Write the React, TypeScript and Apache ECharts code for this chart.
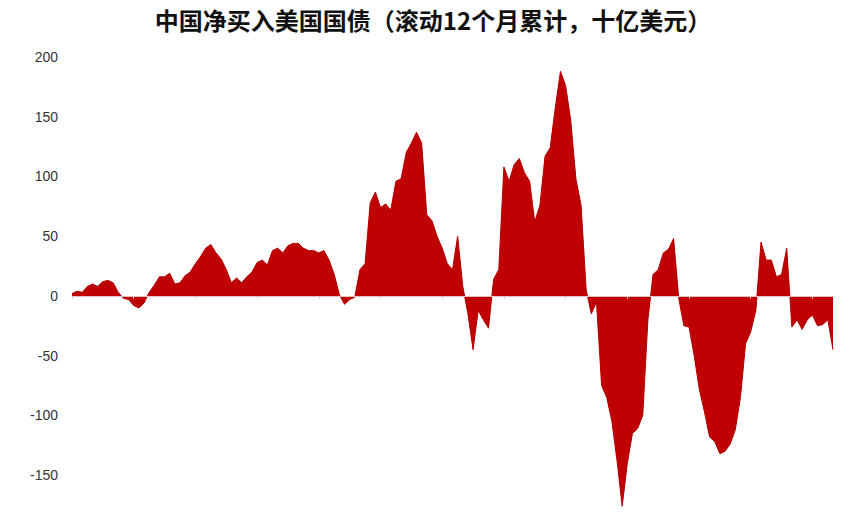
import React, { useEffect, useRef } from 'react';
import * as echarts from 'echarts';

// rolling 12-month net purchases, billion USD (oldest first)
const netBuy = [
    2, 4, 3, 8, 10, 8, 12, 13, 11, 3,
    -2, -3, -8, -10, -6, 3, 9, 16, 16, 19,
    10, 11, 17, 20, 27, 33, 40, 43, 36, 31,
    22, 11, 15, 11, 16, 20, 28, 30, 26, 38,
    40, 36, 42, 44, 44, 40, 38, 38, 36, 38,
    30, 18, 1, -7, -3, -1, 22, 27, 78, 87,
    74, 77, 72, 96, 98, 120, 128, 137, 128, 68,
    63, 50, 40, 27, 22, 50, 8, -15, -45, -12,
    -20, -27, 14, 22, 108, 96, 110, 115, 103, 96,
    62, 76, 117, 124, 158, 188, 176, 147, 98, 76,
    5, -15, -5, -75, -85, -105, -138, -176, -140, -115,
    -111, -100, -20, 18, 22, 36, 39, 48, -2, -25,
    -26, -50, -78, -97, -118, -122, -132, -130, -124, -112,
    -85, -40, -30, -12, 45, 30, 30, 16, 18, 40,
    -26, -20, -28, -20, -16, -25, -24, -20, -45,
];

const periods = netBuy.map((_, i) => String(i + 1));

const yTicks = [-150, -100, -50, 0, 50, 100, 150, 200];

const TITLE = '中国净买入美国国债（滚动12个月累计，十亿美元）';

export default function App() {
    const chartRef = useRef<HTMLDivElement>(null);

    useEffect(() => {
        document.body.style.margin = '0';
        const chart = echarts.init(chartRef.current!, undefined, { renderer: 'svg' });

        chart.setOption({
            animation: false,
            title: {
                text: TITLE,
                left: 428,
                textAlign: 'center',
                top: 2,
                textStyle: {
                    fontFamily: 'Noto Sans CJK SC',
                    fontSize: 24,
                    fontWeight: 'bold',
                    color: '#111',
                },
            },
            grid: { left: 72, right: 35, top: 57, bottom: 9 },
            xAxis: {
                type: 'category',
                data: periods,
                boundaryGap: false,
                z: 10,
                axisLine: { lineStyle: { color: '#e6c2c2', width: 1 } },
                axisTick: { interval: 11, length: 3, lineStyle: { color: '#e6c2c2' } },
                axisLabel: { show: false },
                splitLine: { show: false },
            },
            yAxis: {
                type: 'value',
                min: -180,
                max: 200,
                axisLine: { show: false },
                axisTick: { show: false },
                splitLine: { show: false },
                axisLabel: {
                    customValues: yTicks,
                    margin: 14,
                    fontFamily: 'Liberation Sans',
                    fontSize: 14,
                    color: '#333',
                },
            },
            series: [
                {
                    type: 'line',
                    data: netBuy,
                    showSymbol: false,
                    symbol: 'none',
                    lineStyle: { color: '#b00000', width: 1 },
                    areaStyle: { color: '#c00000', opacity: 1 },
                },
            ],
        });

        return () => {
            chart.dispose();
        };
    }, []);

    return <div ref={chartRef} style={{ width: 868, height: 520 }} />;
}
